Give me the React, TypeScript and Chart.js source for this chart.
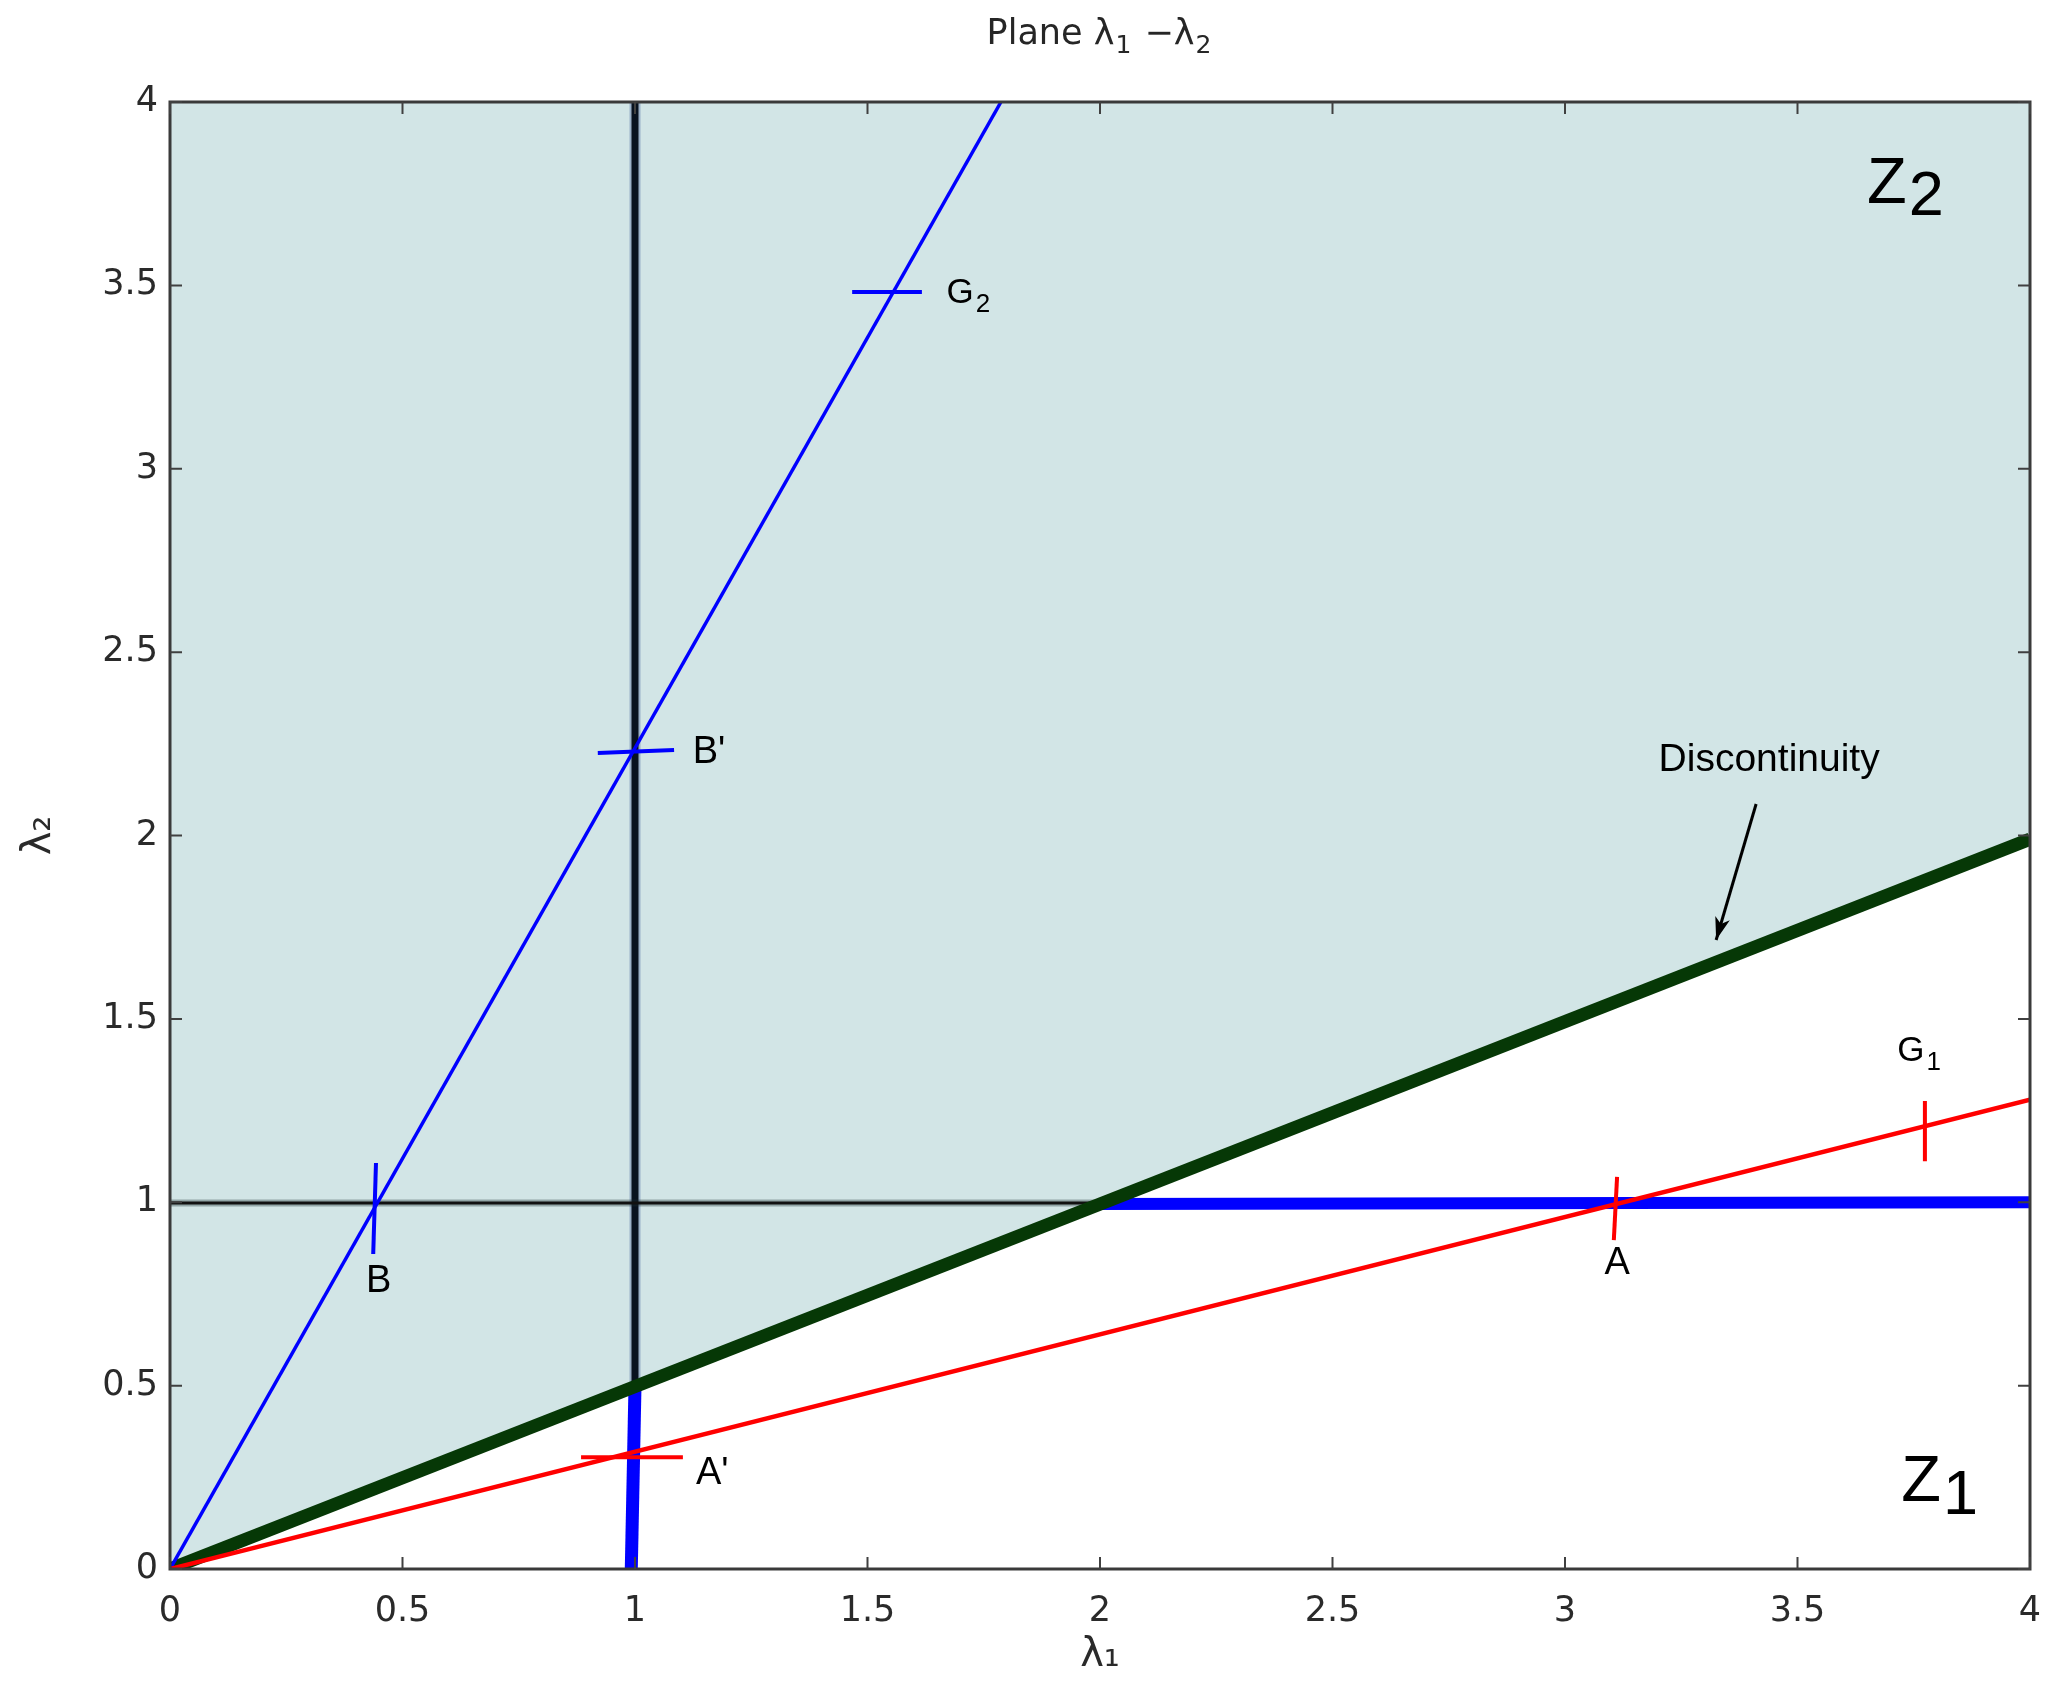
import React, { useEffect, useRef } from 'react';
import { Chart, registerables } from 'chart.js';
Chart.register(...registerables);

// ---- data (axis units: lambda1, lambda2) ----
const axisMin = 0;
const axisMax = 4;
const tickStep = 0.5;

const discontinuityX = [0, 4];
const discontinuityY = [0, 1.99];
const discontinuityEdgeX = [2.5, 4];
const discontinuityEdgeY = [1.258, 2.0];

const blueRayX = [0, 1.787];
const blueRayY = [0, 4];

const redRayX = [0, 4];
const redRayY = [0, 1.28];

const blackVertX = [1, 1];
const blackVertY = [0.5, 4];
const blackHorizX = [0, 2];
const blackHorizY = [0.998, 0.998];

const blueThickVertX = [0.992, 1.0];
const blueThickVertY = [0, 0.5];
const blueThickHorizX = [2.0, 4];
const blueThickHorizY = [0.995, 1.0];

// short marks across the rays: B, B', G2 (blue) and A', A, G1 (red)
const markX0 = [0.443, 0.92, 1.467, 0.884, 3.112, 3.774];
const markY0 = [1.107, 2.225, 3.482, 0.305, 1.069, 1.276];
const markX1 = [0.437, 1.084, 1.617, 1.103, 3.105, 3.774];
const markY1 = [0.859, 2.233, 3.482, 0.305, 0.897, 1.112];
const markIsRed = [false, false, false, true, true, true];

// annotations
const labelText = ['B', "B'", 'A', "A'", 'Discontinuity'];
const labelX = [0.449, 1.159, 3.112, 1.166, 3.439];
const labelY = [0.785, 2.225, 0.832, 0.259, 2.206];

const subMain = ['G', 'G', 'Z', 'Z'];
const subIndex = ['2', '1', '2', '1'];
const subX = [1.699, 3.744, 3.692, 3.766];
const subY = [3.479, 1.412, 3.774, 0.234];

const arrowFrom = [3.411, 2.086];
const arrowTo = [3.325, 1.715];

// title pieces: [text, isSubscript]
const titleParts: [string, boolean][] = [
  ['Plane λ', false],
  ['1', true],
  [' −λ', false],
  ['2', true],
];
const xTitle = 'λ₁';
const yTitle = 'λ₂';

const pts = (xs: number[], ys: number[]) => xs.map((x, i) => ({ x, y: ys[i] }));

export default function App() {
  const ref = useRef<HTMLCanvasElement | null>(null);

  useEffect(() => {
    const canvas = ref.current;
    if (!canvas) return;

    const line = (data: any, color: string, width: number, order: number, extra: any = {}) => ({
      data,
      showLine: true,
      borderColor: color,
      backgroundColor: color,
      borderWidth: width,
      pointRadius: 0,
      pointHoverRadius: 0,
      borderCapStyle: 'butt',
      fill: false,
      order,
      ...extra,
    });

    const datasets: any[] = [
      line(pts(discontinuityX, discontinuityY), 'rgba(0,0,0,0)', 0, 30, { fill: 'end', backgroundColor: '#d2e5e6' }),
      line(pts(blackVertX, blackVertY), 'rgba(110,135,175,0.55)', 11, 29),
      line(pts(blackVertX, blackVertY), '#08121f', 7, 28),
      line(pts(blackHorizX, blackHorizY), 'rgba(30,50,50,0.35)', 7, 27),
      line(pts(blackHorizX, blackHorizY), '#111111', 3, 26),
      line(pts(blueThickVertX, blueThickVertY), '#0000ff', 13, 25),
      line(pts(blueThickHorizX, blueThickHorizY), '#0000ff', 12, 25),
      line(pts(discontinuityEdgeX, discontinuityEdgeY), 'rgba(235,110,110,0.75)', 2, 24),
      line(pts(discontinuityX, discontinuityY), '#063806', 13, 23),
      line(pts(blueRayX, blueRayY), '#0000ff', 3.5, 22),
      line(pts(redRayX, redRayY), '#ff0000', 4.5, 21),
    ];
    markX0.forEach((_, i) => {
      datasets.push(
        line(
          [
            { x: markX0[i], y: markY0[i] },
            { x: markX1[i], y: markY1[i] },
          ],
          markIsRed[i] ? '#ff0000' : '#0000ff',
          4,
          10
        )
      );
    });

    const tickFont = { family: '"DejaVu Sans"', size: 35 };
    const fmt = (v: any) => String(Number(v));

    const overlay = {
      id: 'overlay',
      afterDatasetsDraw(chart: any) {
        const { ctx, chartArea: a, scales } = chart;
        const xs = scales.x;
        const ys = scales.y;
        const px = (v: number) => xs.getPixelForValue(v);
        const py = (v: number) => ys.getPixelForValue(v);
        ctx.save();

        // frame
        ctx.strokeStyle = '#3a3a3a';
        ctx.lineWidth = 3;
        ctx.strokeRect(a.left, a.top, a.right - a.left, a.bottom - a.top);

        // inward ticks on all four sides
        ctx.lineWidth = 2;
        ctx.strokeStyle = '#404040';
        ctx.beginPath();
        xs.ticks.forEach((t: any) => {
          const p = px(t.value);
          ctx.moveTo(p, a.bottom);
          ctx.lineTo(p, a.bottom - 12);
          ctx.moveTo(p, a.top);
          ctx.lineTo(p, a.top + 12);
        });
        ys.ticks.forEach((t: any) => {
          const p = py(t.value);
          ctx.moveTo(a.left, p);
          ctx.lineTo(a.left + 12, p);
          ctx.moveTo(a.right, p);
          ctx.lineTo(a.right - 12, p);
        });
        ctx.stroke();

        // arrow
        const x0 = px(arrowFrom[0]);
        const y0 = py(arrowFrom[1]);
        const x1 = px(arrowTo[0]);
        const y1 = py(arrowTo[1]);
        ctx.strokeStyle = '#000';
        ctx.fillStyle = '#000';
        ctx.lineWidth = 3;
        ctx.beginPath();
        ctx.moveTo(x0, y0);
        ctx.lineTo(x1, y1);
        ctx.stroke();
        const ang = Math.atan2(y1 - y0, x1 - x0);
        const hl = 24;
        ctx.beginPath();
        ctx.moveTo(x1 - hl * Math.cos(ang - 0.32), y1 - hl * Math.sin(ang - 0.32));
        ctx.lineTo(x1, y1);
        ctx.lineTo(x1 - hl * Math.cos(ang + 0.32), y1 - hl * Math.sin(ang + 0.32));
        ctx.lineTo(x1 - hl * 0.7 * Math.cos(ang), y1 - hl * 0.7 * Math.sin(ang));
        ctx.closePath();
        ctx.fill();

        // plain labels
        ctx.fillStyle = '#000';
        ctx.textAlign = 'center';
        ctx.textBaseline = 'middle';
        labelText.forEach((t, i) => {
          ctx.font = (t === 'Discontinuity' ? '39px' : '38px') + ' "Liberation Sans"';
          ctx.fillText(t, px(labelX[i]), py(labelY[i]));
        });

        // subscripted labels
        subMain.forEach((m, i) => {
          const big = m === 'Z';
          const mainSize = big ? 65 : 35;
          const subSize = big ? 63 : 26;
          const dy = big ? 13 : 12;
          const cx = px(subX[i]);
          const cy = py(subY[i]);
          ctx.font = `${mainSize}px "Liberation Sans"`;
          ctx.textAlign = 'center';
          ctx.fillText(m, cx, cy);
          const w = ctx.measureText(m).width;
          ctx.font = `${subSize}px "Liberation Sans"`;
          ctx.textAlign = 'left';
          ctx.fillText(subIndex[i], cx + w / 2 + 2, cy + dy);
        });

        // title with subscripts
        ctx.fillStyle = '#262626';
        ctx.textAlign = 'left';
        const mainF = '35px "DejaVu Sans"';
        const subF = '25px "DejaVu Sans"';
        let total = 0;
        titleParts.forEach(([t, s]) => {
          ctx.font = s ? subF : mainF;
          total += ctx.measureText(t).width + (s ? 3 : 0);
        });
        let tx = (a.left + a.right) / 2 - total / 2;
        titleParts.forEach(([t, s]) => {
          ctx.font = s ? subF : mainF;
          ctx.fillText(t, tx + (s ? 1 : 0), s ? 46 : 35);
          tx += ctx.measureText(t).width + (s ? 3 : 0);
        });

        ctx.restore();
      },
    };

    const chart = new Chart(canvas, {
      type: 'scatter',
      data: { datasets },
      options: {
        animation: false,
        responsive: false,
        maintainAspectRatio: false,
        devicePixelRatio: 1,
        events: [],
        layout: { padding: { left: 0, right: 40, top: 102, bottom: 0 } },
        plugins: {
          legend: { display: false },
          tooltip: { enabled: false },
          title: { display: false },
        },
        scales: {
          x: {
            type: 'linear',
            min: axisMin,
            max: axisMax,
            grid: { display: false, drawTicks: false },
            border: { display: false },
            ticks: {
              stepSize: tickStep,
              autoSkip: false,
              maxRotation: 0,
              padding: 22,
              color: '#2a2a2a',
              font: tickFont,
              callback: fmt,
            },
            title: {
              display: true,
              text: xTitle,
              color: '#2a2a2a',
              font: { family: '"DejaVu Sans"', size: 40 },
              padding: { top: 0, bottom: 19 },
            },
            afterFit: (s: any) => {
              s.height = 130;
              s.paddingLeft = 0;
              s.paddingRight = 0;
            },
          },
          y: {
            type: 'linear',
            min: axisMin,
            max: axisMax,
            grid: { display: false, drawTicks: false },
            border: { display: false },
            ticks: {
              stepSize: tickStep,
              autoSkip: false,
              padding: 12,
              color: '#2a2a2a',
              font: tickFont,
              callback: fmt,
            },
            title: {
              display: true,
              text: yTitle,
              color: '#2a2a2a',
              font: { family: '"DejaVu Sans"', size: 40 },
              padding: { top: 16, bottom: 0 },
            },
            afterFit: (s: any) => {
              s.width = 170;
              s.paddingTop = 0;
              s.paddingBottom = 0;
            },
          },
        },
      } as any,
      plugins: [overlay],
    });

    return () => chart.destroy();
  }, []);

  return (
    <div style={{ position: 'absolute', left: 0, top: 0, width: 2070, height: 1699, background: '#fff' }}>
      <canvas ref={ref} width={2070} height={1699} style={{ display: 'block', width: 2070, height: 1699 }} />
    </div>
  );
}
